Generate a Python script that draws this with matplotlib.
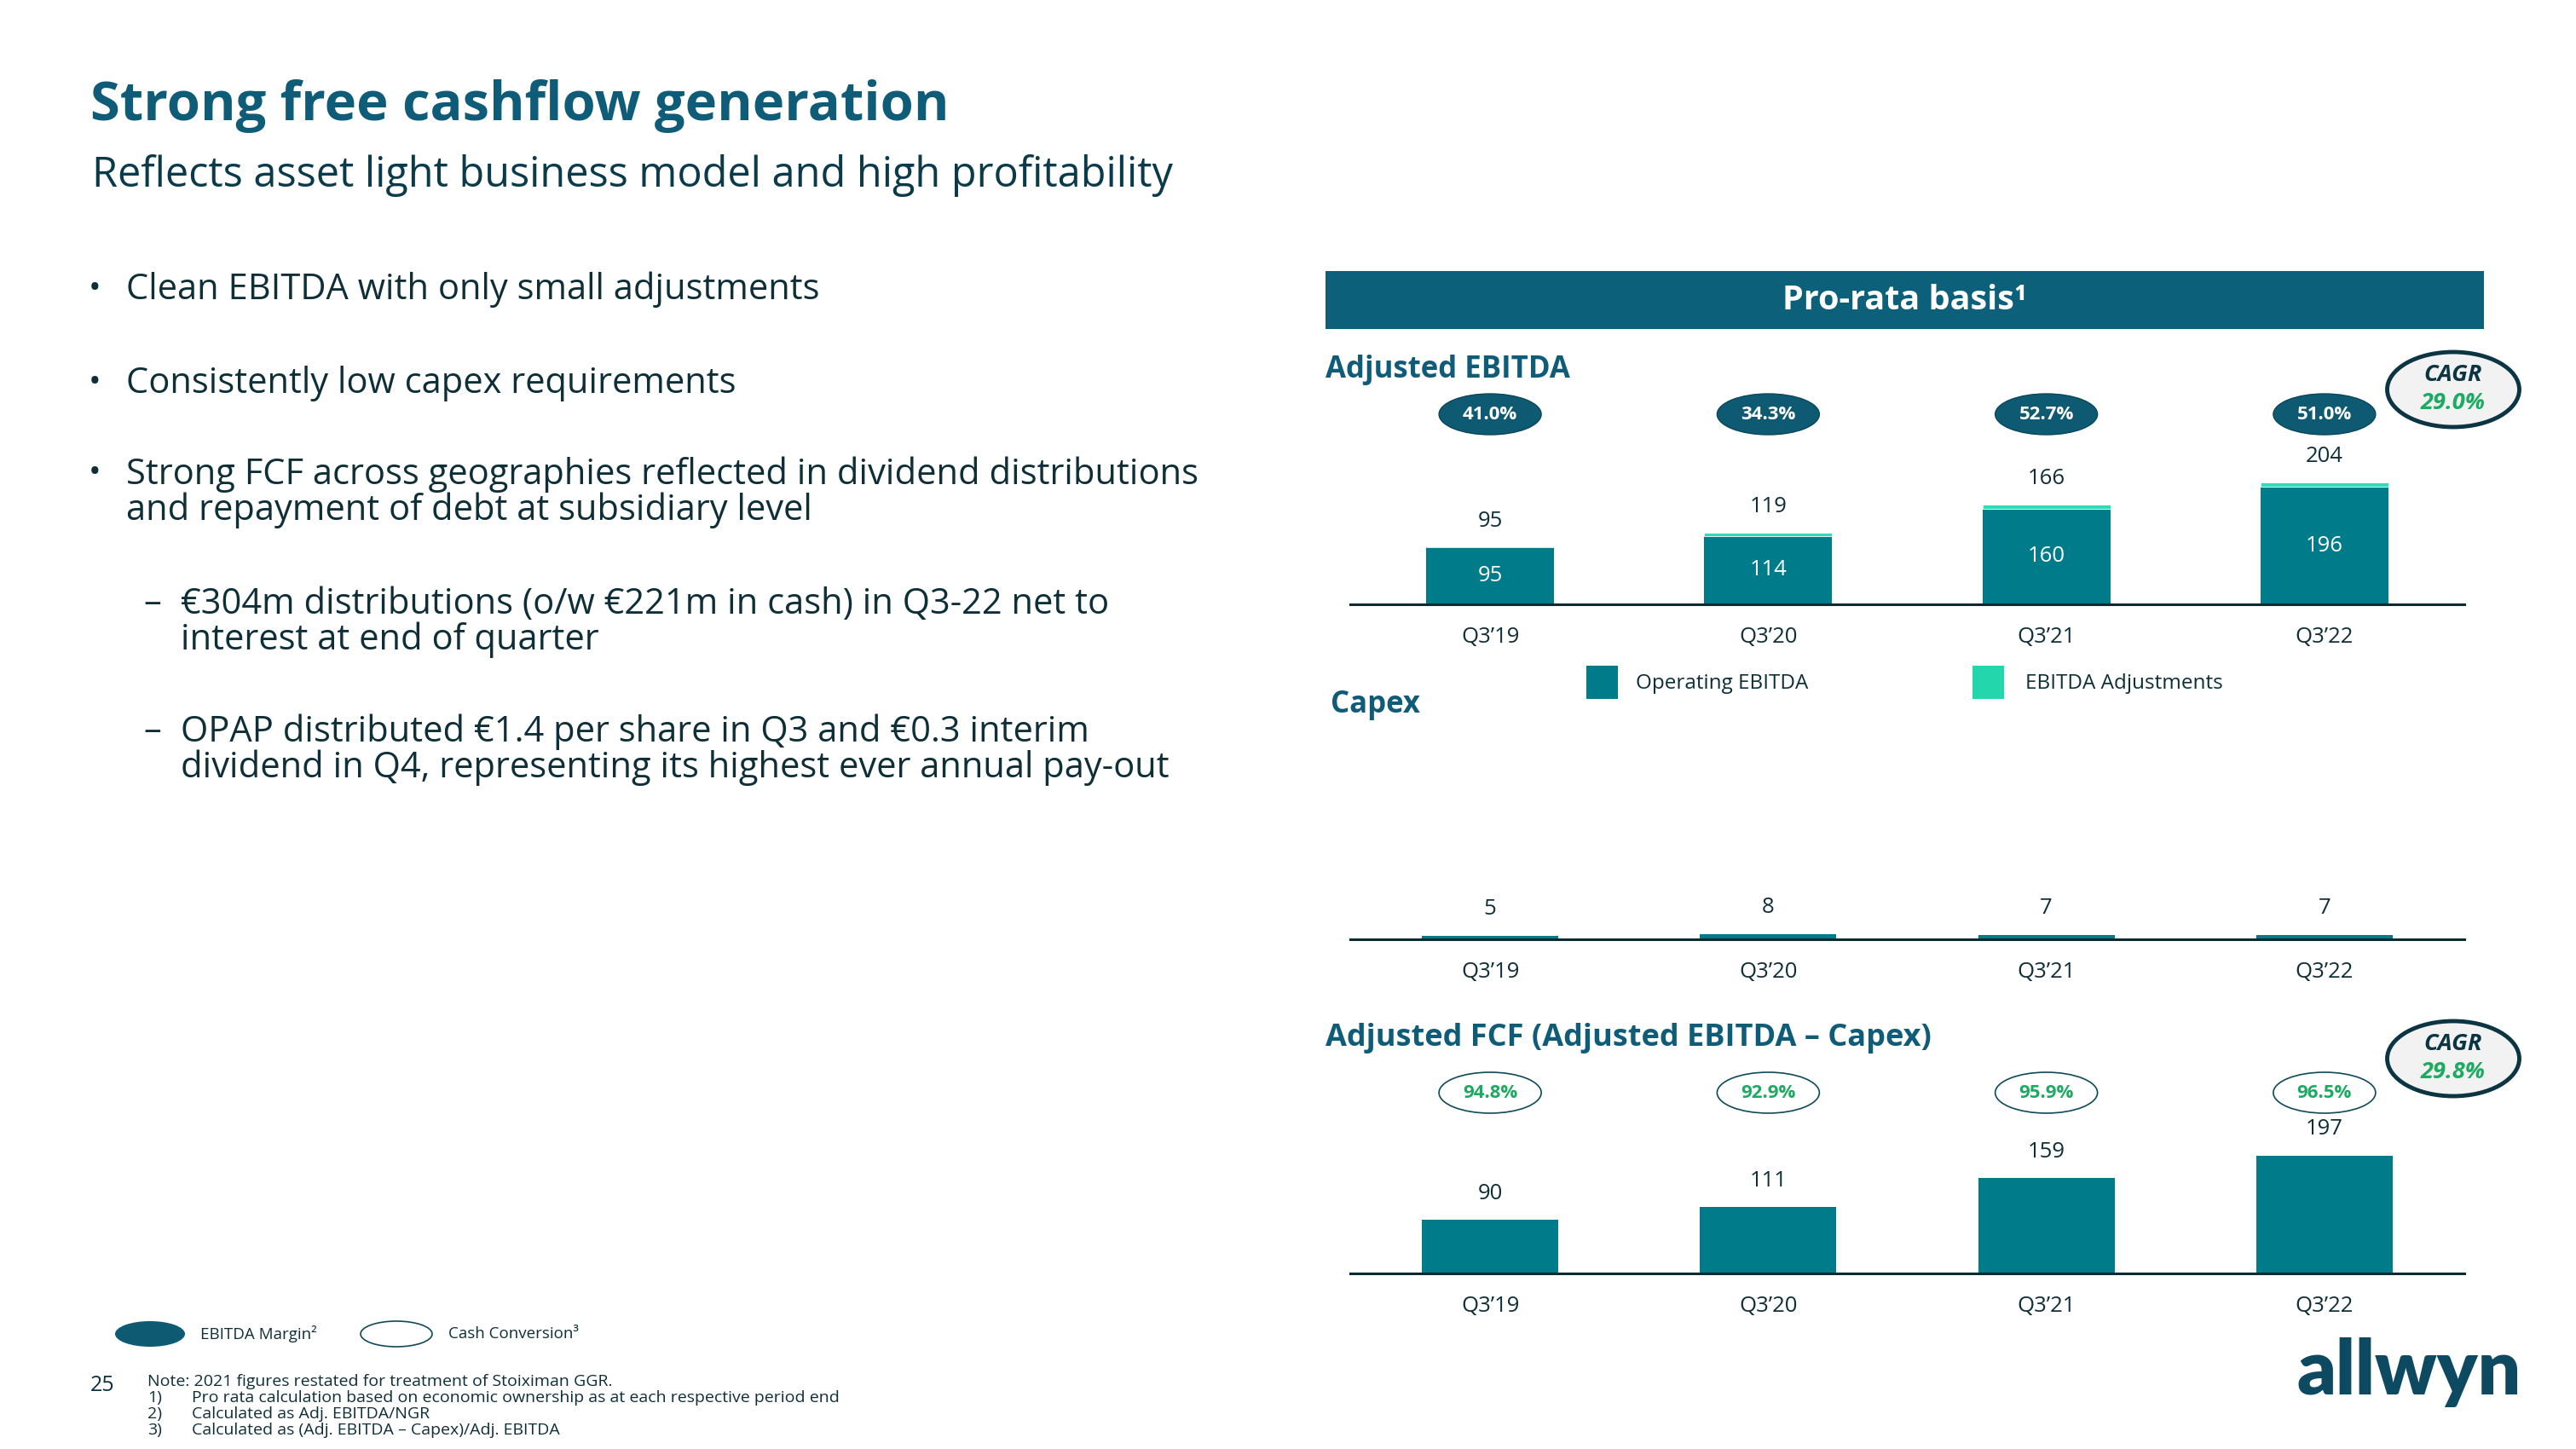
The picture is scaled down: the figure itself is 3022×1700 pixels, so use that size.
"""Allwyn slide: strong free cashflow generation (pro-rata basis)."""
import matplotlib
matplotlib.use("Agg")
import matplotlib.pyplot as plt
from matplotlib.patches import Ellipse, Rectangle
import numpy as np

W, H = 3022, 1700

quarters = ["Q3’19", "Q3’20", "Q3’21", "Q3’22"]
operating_ebitda = [95, 114, 160, 196]
ebitda_adjustments = [0, 5, 6, 8]
adjusted_ebitda = [95, 119, 166, 204]
ebitda_margin = ["41.0%", "34.3%", "52.7%", "51.0%"]
capex = [5, 8, 7, 7]
adjusted_fcf = [90, 111, 159, 197]
cash_conversion = ["94.8%", "92.9%", "95.9%", "96.5%"]
cagr_ebitda = "29.0%"
cagr_fcf = "29.8%"

bullets = [
    "Clean EBITDA with only small adjustments",
    "Consistently low capex requirements",
    "Strong FCF across geographies reflected in dividend distributions\nand repayment of debt at subsidiary level",
]
sub_bullets = [
    "€304m distributions (o/w €221m in cash) in Q3-22 net to\ninterest at end of quarter",
    "OPAP distributed €1.4 per share in Q3 and €0.3 interim\ndividend in Q4, representing its highest ever annual pay-out",
]
notes = [
    "Pro rata calculation based on economic ownership as at each respective period end",
    "Calculated as Adj. EBITDA/NGR",
    "Calculated as (Adj. EBITDA – Capex)/Adj. EBITDA",
]

TEAL = "#007B8A"
MINT = "#2BDDBA"
NAVY = "#0E5C78"
DARK = "#0F2F38"
GREEN = "#1DAA62"

plt.rcParams["font.family"] = ["Open Sans", "DejaVu Sans"]

fig = plt.figure(figsize=(W / 100, H / 100), dpi=100)
fig.patch.set_facecolor("white")

ov = fig.add_axes([0, 0, 1, 1])
ov.set_xlim(0, W)
ov.set_ylim(H, 0)
ov.axis("off")

# ---- left text block
ov.text(106, 141, "Strong free cashflow generation", fontsize=45.5, fontweight="bold",
        color=NAVY, va="baseline")
ov.text(108, 219, "Reflects asset light business model and high profitability", fontsize=35,
        color="#0B3A4A", va="baseline")

bullet_y = [340, 450, 578]
for y, txt in zip(bullet_y, bullets):
    ov.text(104, y - (22 if "\n" in txt else 0), "•", fontsize=28, color=DARK, va="center")
    ov.text(148, y, txt, fontsize=30, color=DARK, va="center", linespacing=0.98)
for y, txt in zip([730, 880], sub_bullets):
    ov.text(168, y - 22, "–", fontsize=30, color=DARK, va="center")
    ov.text(212, y, txt, fontsize=30, color=DARK, va="center", linespacing=0.98)

# ---- banner
ov.add_patch(Rectangle((1555, 318), 1359, 68, color="#0C6079", lw=0))
ov.text(2234, 352, "Pro-rata basis¹", fontsize=28.5, fontweight="bold", color="white",
        ha="center", va="center")

x = np.arange(len(quarters))


def bar_axes(baseline_px, ymax=220):
    scale = 0.703  # px per unit
    left, right = 1584, 2891
    ax = fig.add_axes([left / W, (H - baseline_px) / H, (right - left) / W,
                       ymax * scale / H])
    ax.set_xlim(-0.503, 3.503)
    ax.set_ylim(0, ymax)
    for s in ["top", "left", "right"]:
        ax.spines[s].set_visible(False)
    ax.spines["bottom"].set_linewidth(2.2)
    ax.spines["bottom"].set_color("#0D2A30")
    ax.set_yticks([])
    ax.set_xticks(x, quarters)
    ax.tick_params(axis="x", length=0, pad=19, labelsize=18.5, labelcolor=DARK)
    ax.patch.set_alpha(0)
    return ax


def to_px(ax, xv, yv):
    X, Y = ax.transData.transform((xv, yv))
    return X, H - Y


def value_labels(ax, vals, offset=22):
    for xi, v in zip(x, vals):
        ax.annotate(str(v), (xi, v), xytext=(0, offset), textcoords="offset points",
                    ha="center", va="center", fontsize=18.5, color=DARK)


# ---- Adjusted EBITDA
ax1 = bar_axes(709)
ax1.bar(x, operating_ebitda, width=0.46, color=TEAL, lw=0)
ax1.bar(x, ebitda_adjustments, bottom=operating_ebitda, width=0.46, color=MINT,
        edgecolor="white", lw=0.6)
value_labels(ax1, adjusted_ebitda)
for xi, v in zip(x, operating_ebitda):
    ax1.text(xi, v / 2, str(v), ha="center", va="center", fontsize=18.5, color="white")

ov.text(1555, 434, "Adjusted EBITDA", fontsize=25, fontweight="bold", color=NAVY, va="center")
for xi, m in zip(x, ebitda_margin):
    cx, _ = to_px(ax1, xi, 0)
    ov.add_patch(Ellipse((cx, 486), 120, 48, facecolor="#0E5A72", edgecolor="#0B4658", lw=1))
    ov.text(cx, 486, m, fontsize=16, fontweight="bold", color="white", ha="center", va="center")

ov.add_patch(Rectangle((1861, 781), 37, 39, color=TEAL, lw=0))
ov.text(1919, 802, "Operating EBITDA", fontsize=17.5, color=DARK, va="center")
ov.add_patch(Rectangle((2314, 781), 37, 39, color="#24D6AC", lw=0))
ov.text(2376, 802, "EBITDA Adjustments", fontsize=17.5, color=DARK, va="center")

# ---- Capex
ax2 = bar_axes(1102)
ax2.bar(x, capex, width=0.49, color=TEAL, lw=0)
value_labels(ax2, capex, offset=23)
ov.text(1561, 827, "Capex", fontsize=25, fontweight="bold", color=NAVY, va="center")

# ---- Adjusted FCF
ax3 = bar_axes(1494)
ax3.bar(x, adjusted_fcf, width=0.49, color=TEAL, lw=0)
value_labels(ax3, adjusted_fcf)
ov.text(1555, 1218, "Adjusted FCF (Adjusted EBITDA – Capex)", fontsize=26, fontweight="bold",
        color=NAVY, va="center")
for xi, c in zip(x, cash_conversion):
    cx, _ = to_px(ax3, xi, 0)
    ov.add_patch(Ellipse((cx, 1282), 120, 48, facecolor="white", edgecolor="#0E4A5A", lw=1.2))
    ov.text(cx, 1282, c, fontsize=16, fontweight="bold", color=GREEN, ha="center", va="center")

# ---- CAGR badges
for cy, val in [(457, cagr_ebitda), (1242, cagr_fcf)]:
    ov.add_patch(Ellipse((2878, cy), 155, 88, facecolor="#F2F2F2", edgecolor="#0B3542", lw=3.5))
    ov.text(2878, cy - 17, "CAGR", fontsize=19.5, fontweight="bold", style="italic",
            color="#0B3542", ha="center", va="center")
    ov.text(2878, cy + 16, val, fontsize=19.5, fontweight="bold", style="italic",
            color=GREEN, ha="center", va="center")

# ---- bottom legend and notes
ov.add_patch(Ellipse((176, 1565), 82, 30, facecolor="#0E5A72", lw=0))
ov.text(235, 1565, "EBITDA Margin²", fontsize=13.5, color=DARK, va="center")
ov.add_patch(Ellipse((465, 1565), 84, 30, facecolor="white", edgecolor="#0E4A5A", lw=1.2))
ov.text(526, 1565, "Cash Conversion³", fontsize=13.5, color=DARK, va="center")

ov.text(106, 1625, "25", fontsize=18, color=DARK, va="center")
ov.text(173, 1621, "Note: 2021 figures restated for treatment of Stoiximan GGR.", fontsize=14,
        color=DARK, va="center")
for i, n in enumerate(notes):
    y = 1640 + 19 * i
    ov.text(173, y, f"{i + 1})", fontsize=14, color=DARK, va="center")
    ov.text(225, y, n, fontsize=14, color=DARK, va="center")

ov.text(2694, 1610, "allwyn", fontsize=64, fontweight="heavy", color="#0D4A62", va="center",
        family=["Lato", "DejaVu Sans"])

fig.savefig("out.png", dpi=100, facecolor="white")
